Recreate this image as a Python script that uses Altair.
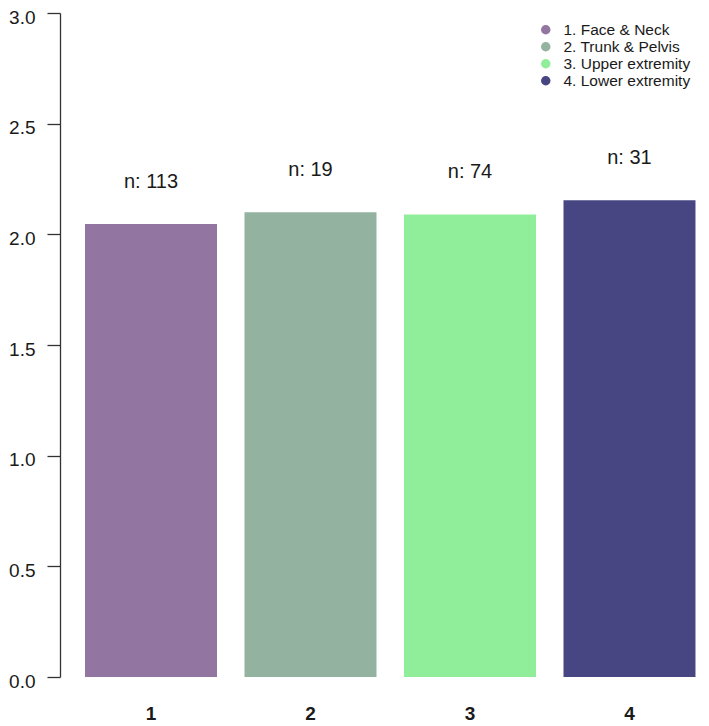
import altair as alt
import pandas as pd

categories = ["1", "2", "3", "4"]
groups = ["1. Face & Neck", "2. Trunk & Pelvis", "3. Upper extremity", "4. Lower extremity"]
values = [2.047, 2.100, 2.090, 2.154]
counts = [113, 19, 74, 31]
colors = ["#9275A0", "#93B2A0", "#90EE9B", "#484682"]
y_ticks = [0.0, 0.5, 1.0, 1.5, 2.0, 2.5, 3.0]

df = pd.DataFrame({
    "cat": categories,
    "group": groups,
    "value": values,
    "label": [f"n: {c}" for c in counts],
})

FONT = "Liberation Sans"

x_enc = alt.X(
    "cat:N",
    sort=categories,
    title=None,
    scale=alt.Scale(paddingInner=0.1724, paddingOuter=0.0925, align=0.847, round=False),
    axis=alt.Axis(labelAngle=0, domain=False, ticks=False, labelPadding=27,
                  labelFontSize=19, labelFontWeight="bold", labelFont=FONT,
                  labelColor="#1a1a1a"),
)
y_enc = alt.Y(
    "value:Q",
    title=None,
    scale=alt.Scale(domain=[0, 3], nice=False, zero=True),
    axis=alt.Axis(values=y_ticks, format=".1f", grid=False, tickSize=13, labelPadding=12,
                  labelOffset=4,
                  labelFontSize=19, labelFont=FONT, labelColor="#1a1a1a",
                  domainColor="#333333", tickColor="#333333", domainWidth=1.3, tickWidth=1.3),
)

base = alt.Chart(df).encode(x=x_enc)

bars = base.mark_bar().encode(
    y=y_enc,
    color=alt.Color(
        "group:N",
        scale=alt.Scale(domain=groups, range=colors),
        legend=alt.Legend(
            title=None, orient="none", legendX=478, legendY=9, padding=0,
            symbolType="circle", symbolSize=90, symbolStrokeWidth=0,
            labelFontSize=15.5, labelFont=FONT, labelColor="#1a1a1a",
            labelOffset=10, rowPadding=0,
        ),
    ),
)

texts = base.mark_text(dy=-42, fontSize=20, font=FONT, color="#1a1a1a", baseline="middle").encode(
    y=alt.Y("value:Q"),
    text="label:N",
)

chart = (
    alt.layer(bars, texts)
    .properties(width=640, height=664, padding={"left": 0, "top": 0, "right": 0, "bottom": 0})
    .configure_view(stroke=None)
)

chart.save("out.html", embed_options={"renderer": "svg", "actions": False})
